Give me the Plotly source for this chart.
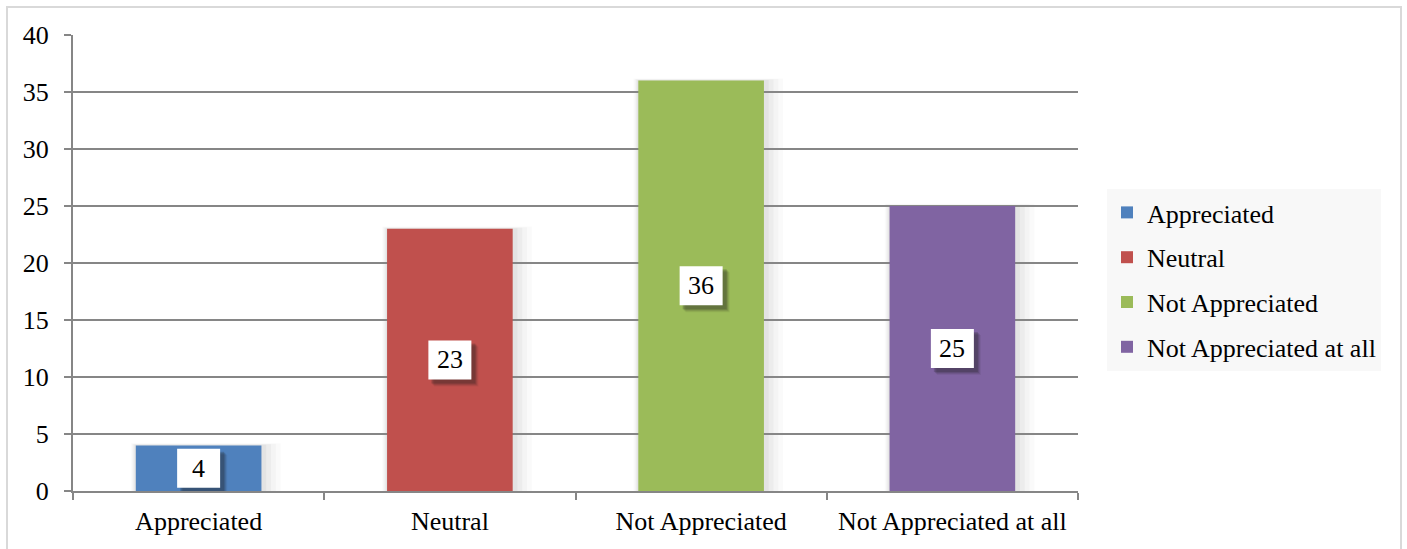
import plotly.graph_objects as go

categories = ["Appreciated", "Neutral", "Not Appreciated", "Not Appreciated at all"]
values = [4, 23, 36, 25]
colors = ["#4f81bd", "#c0504d", "#9bbb59", "#8064a2"]
y_ticks = [0, 5, 10, 15, 20, 25, 30, 35, 40]

FONT = "Liberation Serif"
FS = 26
GRID = "#868686"

fig = go.Figure()

# soft shadow behind each bar
for i, v in enumerate(values):
    for k, a in enumerate([0.035, 0.03, 0.025, 0.02]):
        pad = (k + 1) * 4 / 251.0
        fig.add_shape(type="rect", xref="x", yref="y", layer="below",
                      x0=i - 0.25 - pad * 0.3, x1=i + 0.25 + pad * 1.2,
                      y0=0, y1=v + pad * 3,
                      fillcolor=f"rgba(0,0,0,{a})", line_width=0)

for cat, v, c in zip(categories, values, colors):
    fig.add_trace(go.Bar(x=[cat], y=[v], name=cat, marker_color=c,
                         marker_line_width=0, width=0.5, legendgroup=cat))

# value labels: white box with a soft drop shadow, sized in pixels
BW, BH = 43, 39
for i, v in enumerate(values):
    for s, a in [(7, 0.07), (6, 0.11), (5, 0.15), (4, 0.2)]:
        fig.add_shape(type="rect", xref="x", yref="y", layer="above",
                      xsizemode="pixel", ysizemode="pixel",
                      xanchor=i, yanchor=v / 2,
                      x0=-BW / 2 + s - 1, x1=BW / 2 + s,
                      y0=-BH / 2 - s, y1=BH / 2 - s + 1,
                      fillcolor=f"rgba(30,30,30,{a})", line_width=0)
    fig.add_shape(type="rect", xref="x", yref="y", layer="above",
                  xsizemode="pixel", ysizemode="pixel",
                  xanchor=i, yanchor=v / 2,
                  x0=-BW / 2, x1=BW / 2, y0=-BH / 2, y1=BH / 2,
                  fillcolor="white", line_width=0)
    fig.add_annotation(x=categories[i], y=v / 2, text=str(v), showarrow=False,
                       font=dict(family=FONT, size=FS, color="black"))

# outer chart border
fig.add_shape(type="rect", xref="paper", yref="paper",
              x0=(7 - 73) / 1005, x1=(1401 - 73) / 1005,
              y0=-0.3, y1=(491 - 7) / 456,
              line=dict(color="#d9d9d9", width=2), fillcolor="rgba(0,0,0,0)")

fig.update_layout(
    width=1407, height=549,
    margin=dict(l=73, r=329, t=35, b=58, autoexpand=False),
    paper_bgcolor="white", plot_bgcolor="white",
    barmode="overlay",
    font=dict(family=FONT, size=FS, color="black"),
    showlegend=True,
    legend=dict(x=(1107 - 73) / 1005, y=(491 - 189) / 456,
                xanchor="left", yanchor="top",
                bgcolor="#f8f8f8", font=dict(family=FONT, size=FS),
                tracegroupgap=8, itemwidth=30),
    xaxis=dict(type="category", categoryorder="array", categoryarray=categories,
               showline=True, linecolor=GRID, linewidth=2,
               ticks="outside", ticklen=7, tickcolor=GRID, tickwidth=2,
               tickson="boundaries", showgrid=False, ticklabelstandoff=6,
               tickangle=0, automargin=False,
               tickfont=dict(family=FONT, size=FS)),
    yaxis=dict(range=[0, 40], tickvals=y_ticks,
               showline=True, linecolor=GRID, linewidth=2,
               ticks="outside", ticklen=7, tickcolor=GRID, tickwidth=2,
               showgrid=True, gridcolor=GRID, gridwidth=2,
               zeroline=False, ticklabelstandoff=10, automargin=False,
               tickfont=dict(family=FONT, size=FS)),
)

fig.write_html("out.html")
